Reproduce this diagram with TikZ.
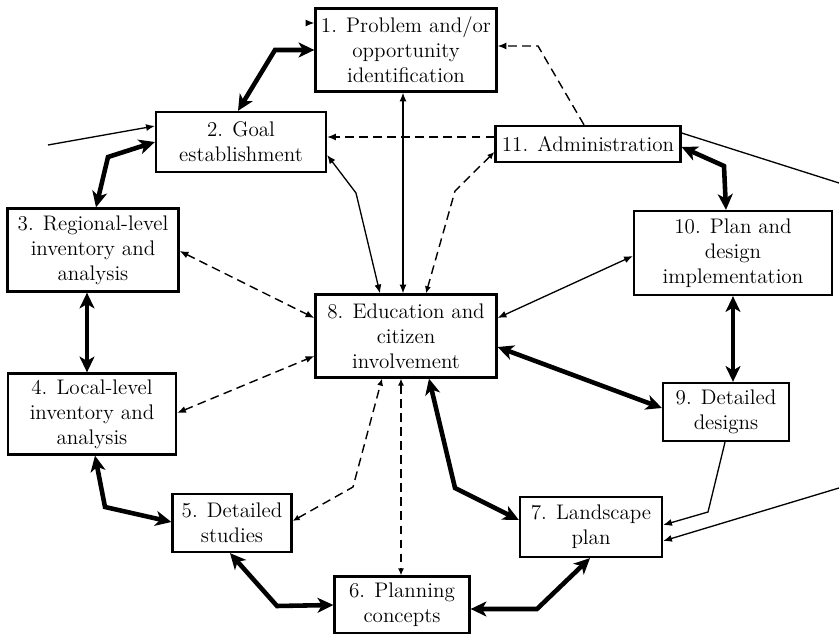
\documentclass[tikz,border=0pt]{standalone}
\usetikzlibrary{arrows.meta,calc}
\begin{document}
\begin{tikzpicture}[x=0.02cm,y=-0.02cm,
    box/.style={draw,line width=1.3pt,align=center,inner sep=0pt,font=\fontsize{12}{14.2}\selectfont},
    heavy/.style={line width=2.6pt,{Stealth[length=9pt,width=8.5pt,inset=2.5pt]}-{Stealth[length=9pt,width=8.5pt,inset=2.5pt]}},
    light/.style={line width=0.75pt},
    dashlink/.style={line width=0.8pt,dash pattern=on 5pt off 3pt}]
    \useasboundingbox (0,0) rectangle (839,634);
    % steps
    \node[box,minimum width=3.62cm,minimum height=1.66cm] (prob) at (406,50) {1. Problem and/or\\opportunity\\identification};
    \node[box,minimum width=3.4cm,minimum height=1.2cm] (goal) at (241,142) {2. Goal\\establishment};
    \node[box,minimum width=3.42cm,minimum height=1.66cm] (regional) at (93,250) {3. Regional-level\\inventory and\\analysis};
    \node[box,minimum width=3.36cm,minimum height=1.62cm] (local) at (92,414) {4. Local-level\\inventory and\\analysis};
    \node[box,minimum width=2.38cm,minimum height=1.16cm] (studies) at (232,523) {5. Detailed\\studies};
    \node[box,minimum width=2.7cm,minimum height=1.14cm] (concepts) at (402,605) {6. Planning\\concepts};
    \node[box,minimum width=2.84cm,minimum height=1.2cm] (landscape) at (591,527) {7. Landscape\\plan};
    \node[box,minimum width=3.62cm,minimum height=1.66cm] (edu) at (406,336) {8. Education and\\citizen\\involvement};
    \node[box,minimum width=2.52cm,minimum height=1.16cm] (designs) at (726,412) {9. Detailed\\designs};
    \node[box,minimum width=3.96cm,minimum height=1.68cm] (impl) at (733,253) {10. Plan and\\design\\implementation};
    \node[box,minimum width=3.7cm,minimum height=0.72cm] (admin) at (588,144) {11. Administration};
    \coordinate (stub) at (308,23);
    \coordinate (feed) at (48,145);
    \coordinate (outA) at (839,183);
    \coordinate (outB) at (839,488);
    % main cycle
    \draw[heavy] (prob.west) -- (275,50) -- ($(goal.north)+(-3,0)$);
    \draw[heavy] (goal.west) -- (108,157) -- ($(regional.north)+(3,0)$);
    \draw[heavy] ($(regional.south)+(-6,0)$) -- ($(local.north)+(-5,0)$);
    \draw[heavy] ($(local.south)+(3,0)$) -- (105,507) -- ($(studies.west)+(0,-1)$);
    \draw[heavy] ($(studies.south)+(-2,0)$) -- (277,606) -- (concepts.west);
    \draw[heavy] ($(concepts.east)+(0,4)$) -- (537,609) -- ($(landscape.south)+(-1,0)$);
    \draw[heavy] ($(edu.south)+(23,0)$) -- (455,488) -- ($(landscape.west)+(0,-7)$);
    \draw[heavy] ($(edu.east)+(0,11)$) -- ($(designs.west)+(0,-4)$);
    \draw[heavy] (impl.south) -- ($(designs.north)+(7,0)$);
    \draw[heavy] ($(admin.east)+(0,3)$) -- (724,166) -- ($(impl.north)+(-7,0)$);
    % solid links
    \draw[light,-{Latex[length=5pt,width=4pt]}] (stub) -- ($(prob.west)+(0,-27)$);
    \draw[light,-{Latex[length=5pt,width=4pt]}] (feed) -- ($(goal.west)+(0,-16)$);
    \draw[light,{Latex[length=5pt,width=4pt]}-{Latex[length=5pt,width=4pt]}] ($(goal.east)+(0,13)$) -- (356,193) -- ($(edu.north)+(-26,0)$);
    \draw[light,{Latex[length=5pt,width=4pt]}-{Latex[length=5pt,width=4pt]}] ($(prob.south)+(-3,0)$) -- ($(edu.north)+(-3,0)$);
    \draw[light,{Latex[length=5pt,width=4pt]}-{Latex[length=5pt,width=4pt]}] ($(edu.east)+(0,-18)$) -- ($(impl.west)+(0,3)$);
    \draw[light,-{Latex[length=5pt,width=4pt]}] ($(designs.south)+(-1,0)$) -- (708,512) -- ($(landscape.east)+(0,-2)$);
    \draw[light] ($(admin.east)+(0,-11)$) -- (outA);
    \draw[light,-{Latex[length=5pt,width=4pt]}] (outB) -- ($(landscape.east)+(0,14)$);
    % dashed links
    \draw[dashlink,-{Latex[length=5pt,width=4pt]}] ($(admin.west)+(0,-7)$) -- ($(goal.east)+(0,-5)$);
    \draw[dashlink,-{Latex[length=5pt,width=4pt]}] ($(admin.north)+(-4,0)$) -- (538,46) -- ($(prob.east)+(0,-4)$);
    \draw[dashlink,{Latex[length=4pt,width=3.5pt]}-{Latex[length=4pt,width=3.5pt]}] ($(admin.west)+(0,8)$) -- (455,191) -- ($(edu.north)+(20,0)$);
    \draw[dashlink,{Latex[length=5pt,width=4pt]}-{Latex[length=5pt,width=4pt]}] ($(regional.east)+(0,1)$) -- ($(edu.west)+(0,-18)$);
    \draw[dashlink,{Latex[length=5pt,width=4pt]}-{Latex[length=5pt,width=4pt]}] ($(local.east)+(0,-1)$) -- ($(edu.west)+(0,20)$);
    \draw[dashlink,{Latex[length=4pt,width=3.5pt]}-{Latex[length=4pt,width=3.5pt]}] ($(studies.east)+(0,-2)$) -- (353,487) -- ($(edu.south)+(-24,0)$);
    \draw[dashlink,{Latex[length=4pt,width=3.5pt]}-{Latex[length=4pt,width=3.5pt]}] ($(edu.south)+(-5,0)$) -- ($(concepts.north)+(-1,0)$);
\end{tikzpicture}
\end{document}
